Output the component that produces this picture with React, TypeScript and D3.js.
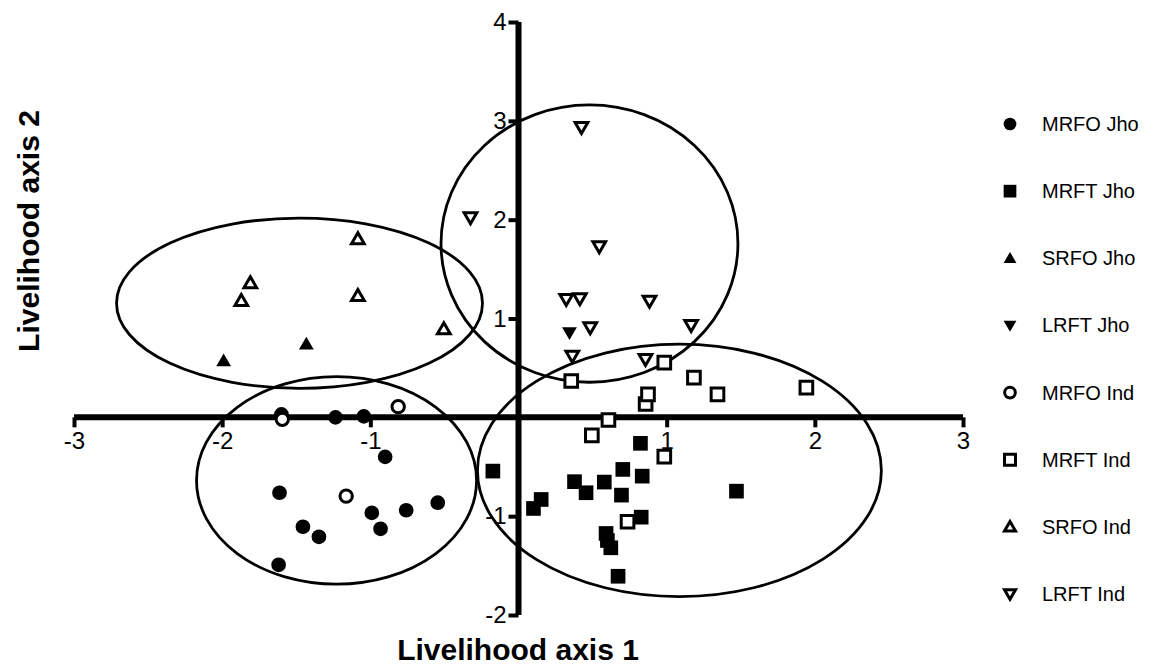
import { useEffect, useRef } from "react";
import * as d3 from "d3";

type Pt = [number, number];

// scatter series
const mrfoJho: Pt[] = [
  [-1.6, 0.03], [-1.235, 0.0], [-1.044, 0.01], [-0.9, -0.4], [-1.613, -0.763],
  [-0.99, -0.967], [-0.758, -0.94], [-0.545, -0.864], [-1.455, -1.107],
  [-1.347, -1.209], [-0.931, -1.128], [-1.619, -1.492],
];
const mrftJho: Pt[] = [
  [-0.173, -0.544], [0.101, -0.922], [0.153, -0.831], [0.378, -0.651],
  [0.456, -0.763], [0.579, -0.655], [0.704, -0.527], [0.835, -0.595],
  [0.823, -0.263], [0.695, -0.787], [0.591, -1.175], [0.6, -1.246],
  [0.623, -1.32], [0.828, -1.01], [0.672, -1.608], [1.471, -0.747],
];
const srfoJho: Pt[] = [[-1.99, 0.57], [-1.432, 0.74]];
const lrftJho: Pt[] = [[0.344, 0.858]];
const mrfoInd: Pt[] = [[-1.594, -0.02], [-0.812, 0.108], [-1.163, -0.797]];
const mrftInd: Pt[] = [
  [0.356, 0.368], [0.495, -0.182], [0.607, -0.027], [0.858, 0.135],
  [0.874, 0.233], [0.984, 0.554], [1.184, 0.402], [1.343, 0.233],
  [1.943, 0.301], [0.984, -0.398], [0.736, -1.057],
];
const srfoInd: Pt[] = [
  [-1.084, 1.803], [-1.81, 1.358], [-1.871, 1.178], [-1.084, 1.229], [-0.504, 0.892],
];
const lrftInd: Pt[] = [
  [0.425, 2.935], [-0.324, 2.023], [0.545, 1.729], [0.322, 1.196], [0.414, 1.203],
  [0.884, 1.178], [0.484, 0.909], [1.165, 0.932], [0.363, 0.621], [0.857, 0.588],
];

// group ellipses: centre x, centre y, radius x, radius y (data units)
const ellipses = [
  [-1.478, 1.155, 1.235, 0.861],
  [0.479, 1.758, 1.002, 1.403],
  [-1.228, -0.638, 0.945, 1.05],
  [1.086, -0.537, 1.363, 1.277],
];

const xTicks = [-3, -2, -1, 1, 2, 3];
const yTicks = [-2, -1, 1, 2, 3, 4];

const series = [
  { name: "MRFO Jho", data: mrfoJho, shape: "circle", open: false },
  { name: "MRFT Jho", data: mrftJho, shape: "square", open: false },
  { name: "SRFO Jho", data: srfoJho, shape: "up", open: false },
  { name: "LRFT Jho", data: lrftJho, shape: "down", open: false },
  { name: "MRFO Ind", data: mrfoInd, shape: "circle", open: true },
  { name: "MRFT Ind", data: mrftInd, shape: "square", open: true },
  { name: "SRFO Ind", data: srfoInd, shape: "up", open: true },
  { name: "LRFT Ind", data: lrftInd, shape: "down", open: true },
];

const x = d3.scaleLinear().domain([-3, 3]).range([74, 963]);
const y = d3.scaleLinear().domain([-2, 4]).range([615, 22]);

const font = "Arial, 'Liberation Sans', sans-serif";

function symbolPath(shape: string, open: boolean, k = 1) {
  let type: d3.SymbolType = d3.symbolCircle;
  let size = open ? 120 : 170;
  if (shape === "square") {
    type = d3.symbolSquare;
    size = open ? 160 : 215;
  } else if (shape === "up" || shape === "down") {
    type = d3.symbolTriangle;
    size = open ? 70 : 95;
  }
  return d3.symbol().type(type).size(size * k)() as string;
}

function Marker({ shape, open, cx, cy, k = 1 }: any) {
  const rot = shape === "down" ? 180 : 0;
  const dy = shape === "up" ? 1 : shape === "down" ? -1 : 0;
  return (
    <path
      d={symbolPath(shape, open, k)}
      transform={`translate(${cx},${cy + dy}) rotate(${rot})`}
      fill={open ? "#fff" : "#000"}
      stroke="#000"
      strokeWidth={open ? 3 : 0}
      strokeLinejoin="miter"
    />
  );
}

export default function App() {
  const xRef = useRef<SVGGElement>(null);
  const yRef = useRef<SVGGElement>(null);

  useEffect(() => {
    if (xRef.current) {
      const g = d3.select(xRef.current);
      g.call(
        d3.axisBottom(x).tickValues(xTicks).tickSizeInner(10).tickSizeOuter(0).tickPadding(5)
          .tickFormat((d) => String(d))
      );
      g.select(".domain").attr("stroke-width", 6).attr("d", `M${x(-3)},0H${x(3)}`);
      g.selectAll(".tick line").attr("stroke-width", 4);
      g.selectAll(".tick text").attr("font-size", 24).attr("font-family", font).attr("fill", "#000");
    }
    if (yRef.current) {
      const g = d3.select(yRef.current);
      g.call(
        d3.axisLeft(y).tickValues(yTicks).tickSizeInner(10).tickSizeOuter(0).tickPadding(2)
          .tickFormat((d) => String(d))
      );
      g.select(".domain").attr("stroke-width", 6).attr("d", `M0,${y(4)}V${y(-2)}`);
      g.selectAll(".tick line").attr("stroke-width", 4);
      g.selectAll(".tick text").attr("font-size", 24).attr("font-family", font).attr("fill", "#000");
    }
  }, []);

  const legendY = d3.scaleLinear().domain([0, 7]).range([124, 594]);

  return (
    <svg
      width={1169}
      height={667}
      style={{ position: "absolute", left: 0, top: 0, background: "#fff" }}
    >
      <rect width={1169} height={667} fill="#fff" />
      {ellipses.map(([cx, cy, rx, ry], i) => (
        <ellipse
          key={i}
          cx={x(cx)}
          cy={y(cy)}
          rx={x(cx + rx) - x(cx)}
          ry={y(cy) - y(cy + ry)}
          fill="none"
          stroke="#000"
          strokeWidth={2.8}
        />
      ))}
      <g ref={xRef} transform={`translate(0,${y(0)})`} />
      <g ref={yRef} transform={`translate(${x(0)},0)`} />
      {series.map((s) =>
        s.data.map((p, j) => (
          <Marker key={s.name + j} shape={s.shape} open={s.open} cx={x(p[0])} cy={y(p[1])} />
        ))
      )}
      {series.map((s, i) => (
        <g key={s.name}>
          <Marker shape={s.shape} open={s.open} cx={1010} cy={legendY(i)} k={0.75} />
          <text x={1042} y={legendY(i)} dy="0.35em" fontSize={20} fontFamily={font} fill="#000">
            {s.name}
          </text>
        </g>
      ))}
      <text
        x={518}
        y={660}
        textAnchor="middle"
        fontSize={30}
        fontWeight="bold"
        fontFamily={font}
        fill="#000"
      >
        Livelihood axis 1
      </text>
      <text
        transform={`translate(39,231) rotate(-90)`}
        textAnchor="middle"
        fontSize={30}
        fontWeight="bold"
        fontFamily={font}
        fill="#000"
      >
        Livelihood axis 2
      </text>
    </svg>
  );
}
